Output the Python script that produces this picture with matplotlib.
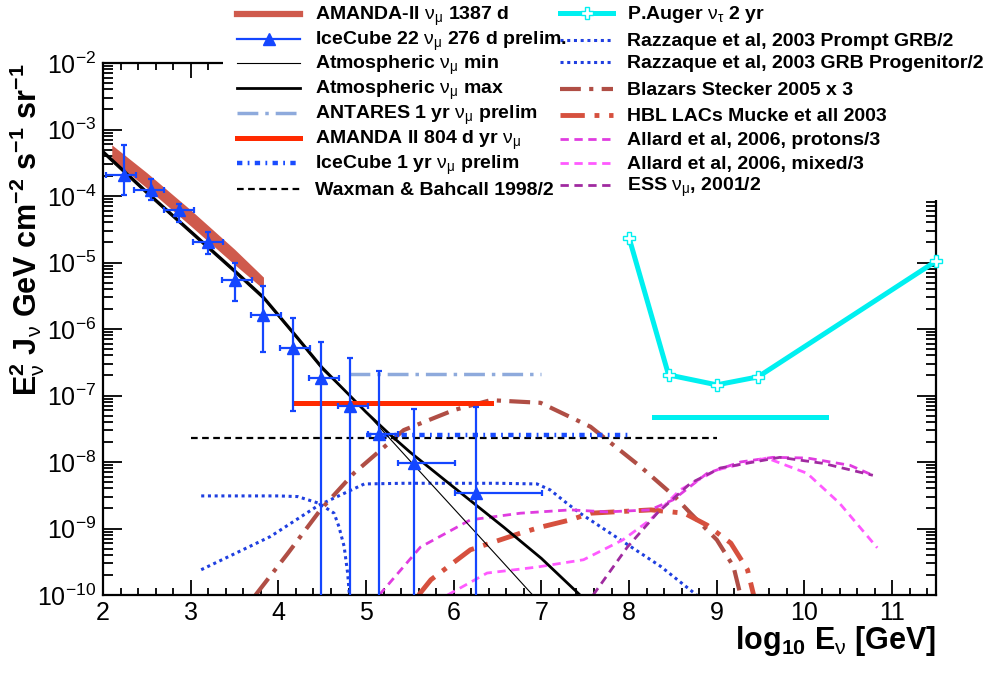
import matplotlib
matplotlib.use("Agg")
import matplotlib.pyplot as plt
import numpy as np
from matplotlib.lines import Line2D
from matplotlib.patches import Rectangle
from matplotlib.ticker import MultipleLocator, AutoMinorLocator, LogLocator, NullFormatter

plt.rcParams['font.family'] = ['Liberation Sans', 'DejaVu Sans']
plt.rcParams['mathtext.fontset'] = 'custom'
plt.rcParams['mathtext.rm'] = 'Liberation Sans'
plt.rcParams['mathtext.it'] = 'Liberation Sans:italic'
plt.rcParams['mathtext.bf'] = 'Liberation Sans:bold'

# ---- data (x = log10 E/GeV, fluxes given as log10 of E^2 J) ----
amanda_x = [2.1, 2.5, 3.0, 3.5, 3.83]
amanda_logf_hi = [-3.23, -3.65, -4.21, -4.80, -5.22]
amanda_logf_lo = [-3.45, -3.88, -4.45, -5.03, -5.40]

ic22_x = [2.24, 2.55, 2.87, 3.20, 3.50, 3.83, 4.17, 4.49, 4.82, 5.15, 5.55, 6.25]
ic22_xlo = [2.03, 2.35, 2.69, 3.03, 3.36, 3.69, 4.02, 4.35, 4.68, 5.02, 5.36, 6.02]
ic22_xhi = [2.38, 2.69, 3.04, 3.37, 3.70, 4.03, 4.36, 4.69, 5.02, 5.36, 6.02, 7.01]
ic22_logf = [-3.68, -3.91, -4.21, -4.69, -5.26, -5.79, -6.29, -6.74, -7.16, -7.58, -8.02, -8.47]
ic22_logf_top = [-3.23, -3.74, -4.12, -4.54, -5.00, -5.35, -5.83, -6.20, -6.44, -6.63, -7.20, -7.17]
# -12 = lower error runs off the bottom of the plot
ic22_logf_bot = [-3.98, -4.06, -4.39, -4.87, -5.58, -6.35, -7.23, -12, -12, -12, -12, -12]

atm_max_x = [2.0, 2.5, 3.0, 3.5, 3.83, 4.2, 4.5, 5.0, 5.25, 5.5, 6.0, 6.57, 7.0, 7.44]
atm_max_logf = [-3.33, -3.94, -4.53, -5.12, -5.52, -6.10, -6.58, -7.25, -7.56, -7.85, -8.38, -8.98, -9.45, -10.0]
atm_min_x = [2.0, 2.5, 3.0, 3.5, 3.83, 4.2, 4.5, 4.9, 5.5, 6.0, 6.5, 6.9]
atm_min_logf = [-3.36, -3.97, -4.56, -5.15, -5.55, -6.13, -6.61, -7.11, -7.98, -8.70, -9.42, -10.0]

antares_x = [4.8, 7.0]
antares_logf = [-6.67, -6.67]
amanda804_x = [4.2, 6.42]
amanda804_logf = [-7.12, -7.12]
ic1yr_x = [5.0, 8.0]
ic1yr_logf = [-7.59, -7.59]
wb_x = [3.0, 9.0]
wb_logf = [-7.64, -7.64]

auger_x = [8.0, 8.45, 9.0, 9.47, 11.5]
auger_logf = [-4.63, -6.69, -6.84, -6.72, -4.98]
auger_flat_x = [8.28, 10.25]
auger_flat_logf = [-7.32, -7.32]

razz_prog_x = [3.12, 3.5, 4.0, 4.22, 4.46, 4.635, 4.69, 4.75, 4.79, 4.81]
razz_prog_logf = [-8.51, -8.51, -8.51, -8.52, -8.62, -8.77, -8.97, -9.27, -9.67, -10.0]
razz_prompt_x = [3.12, 3.5, 3.91, 4.46, 4.98, 5.43, 6.5, 6.95, 7.1, 7.29, 7.44, 7.9, 8.36, 8.77]
razz_prompt_logf = [-9.62, -9.38, -9.12, -8.65, -8.33, -8.32, -8.32, -8.33, -8.42, -8.62, -8.77, -9.17, -9.57, -10.0]

blazar_x = [3.74, 4.11, 4.48, 4.86, 5.43, 6.0, 6.42, 6.99, 7.56, 8.13, 8.52, 8.70, 9.0, 9.19, 9.27]
blazar_logf = [-10.0, -9.37, -8.72, -8.17, -7.52, -7.22, -7.07, -7.11, -7.47, -8.07, -8.52, -8.77, -9.17, -9.57, -10.0]
hbl_x = [5.6, 5.74, 6.19, 6.76, 6.99, 7.33, 7.56, 8.25, 8.63, 8.89, 9.16, 9.35, 9.42]
hbl_logf = [-10.0, -9.77, -9.32, -9.07, -8.98, -8.87, -8.77, -8.72, -8.77, -8.95, -9.22, -9.62, -10.0]

allard_p_x = [5.15, 5.62, 6.19, 6.76, 7.33, 7.75, 8.24, 8.5, 8.89, 9.27, 9.64, 10.03, 10.52, 10.78]
allard_p_logf = [-10.0, -9.28, -8.87, -8.77, -8.72, -8.75, -8.72, -8.57, -8.17, -8.0, -7.93, -7.94, -8.05, -8.2]
allard_mix_x = [5.93, 6.38, 6.95, 7.48, 7.93, 8.24, 8.58, 9.0, 9.57, 10.03, 10.4, 10.83]
allard_mix_logf = [-10.0, -9.67, -9.58, -9.47, -9.17, -8.87, -8.42, -8.12, -7.94, -8.17, -8.62, -9.29]
ess_x = [7.59, 7.98, 8.32, 8.7, 9.04, 9.72, 10.21, 10.78]
ess_logf = [-10.0, -9.28, -8.77, -8.32, -8.09, -7.93, -8.02, -8.2]


def f(a):
    return 10.0 ** np.asarray(a, dtype=float)


# ---- styles ----
BLUE = '#1446ff'
CYAN = '#00f0f0'
styles = {
    'amanda1387': dict(color='#cf5a4c', lw=5),
    'ic22': dict(color=BLUE, lw=1.6),
    'atm_min': dict(color='black', lw=0.8),
    'atm_max': dict(color='black', lw=2.0),
    'antares': dict(color='#8eaadc', lw=2.5, ls=(0, (6, 2, 1, 2))),
    'amanda804': dict(color='#ff2a00', lw=3.6),
    'ic1yr': dict(color='#1a4cff', lw=3.2, ls=(0, (1.2, 1.2, 0.4, 1.2))),
    'wb': dict(color='black', lw=1.6, ls=(0, (3, 2))),
    'auger': dict(color=CYAN, lw=3.6),
    'razz': dict(color='#1f3fe0', lw=2.2, ls=(0, (1, 1.2))),
    'blazar': dict(color='#b04e45', lw=3.0, ls=(0, (5, 2, 1, 2))),
    'hbl': dict(color='#d6503e', lw=3.5, ls=(0, (5, 2, 1, 2))),
    'allard_p': dict(color='#e03ce0', lw=2.0, ls=(0, (3, 2))),
    'allard_mix': dict(color='#ff5aff', lw=2.0, ls=(0, (3, 2))),
    'ess': dict(color='#a02aa0', lw=2.0, ls=(0, (3, 2))),
}

W, H = 985, 677
fig = plt.figure(figsize=(W / 100, H / 100), dpi=100)
ax = fig.add_axes([103 / W, 1 - 595 / H, (936 - 103) / W, (595 - 63) / H])

# models and limits
ax.fill_between(amanda_x, f(amanda_logf_lo), f(amanda_logf_hi),
                color=styles['amanda1387']['color'], lw=0, zorder=2)
ax.plot(atm_min_x, f(atm_min_logf), **styles['atm_min'], zorder=3)
ax.plot(atm_max_x, f(atm_max_logf), **styles['atm_max'], zorder=3)
ax.plot(razz_prog_x, f(razz_prog_logf), **styles['razz'])
ax.plot(razz_prompt_x, f(razz_prompt_logf), **styles['razz'])
ax.plot(blazar_x, f(blazar_logf), **styles['blazar'])
ax.plot(hbl_x, f(hbl_logf), **styles['hbl'])
ax.plot(allard_p_x, f(allard_p_logf), **styles['allard_p'])
ax.plot(allard_mix_x, f(allard_mix_logf), **styles['allard_mix'])
ax.plot(ess_x, f(ess_logf), **styles['ess'])
ax.plot(wb_x, f(wb_logf), **styles['wb'])
ax.plot(antares_x, f(antares_logf), **styles['antares'])
ax.plot(ic1yr_x, f(ic1yr_logf), **styles['ic1yr'])
ax.plot(amanda804_x, f(amanda804_logf), **styles['amanda804'], zorder=4)

# IceCube 22 points
x = np.array(ic22_x)
y = f(ic22_logf)
xerr = [x - np.array(ic22_xlo), np.array(ic22_xhi) - x]
yerr = [y - f(ic22_logf_bot), f(ic22_logf_top) - y]
ax.errorbar(x, y, xerr=xerr, yerr=yerr, fmt='^', color=BLUE, ms=8,
            elinewidth=1.6, capsize=2.5, capthick=1.6, zorder=5)

# Auger
ax.plot(auger_flat_x, f(auger_flat_logf), **styles['auger'])
ax.plot(auger_x, f(auger_logf), **styles['auger'], marker='P', ms=9,
        mfc='white', mec=CYAN, mew=1.0, clip_on=False, zorder=6)

# axes
ax.set_yscale('log')
ax.set_xlim(2, 11.5)
ax.set_ylim(1e-10, 1e-2)
ax.xaxis.set_major_locator(MultipleLocator(1))
ax.xaxis.set_minor_locator(AutoMinorLocator(5))
ax.yaxis.set_major_locator(LogLocator(base=10, numticks=20))
ax.yaxis.set_minor_locator(LogLocator(base=10, subs=np.arange(2, 10), numticks=20))
ax.yaxis.set_minor_formatter(NullFormatter())
ax.tick_params(which='both', direction='in', top=True, right=True, width=1.3)
ax.tick_params(axis='x', which='major', length=11, labelsize=18, pad=4)
ax.tick_params(axis='x', which='minor', length=5)
ax.tick_params(axis='y', which='major', length=14, labelsize=18, pad=5)
ax.tick_params(axis='y', which='minor', length=7)
for s in ax.spines.values():
    s.set_linewidth(1.6)

ax.set_ylabel(r'E$^{\mathbf{2}}_{\mathrm{\nu}}$ J$_{\mathrm{\nu}}$ GeV cm$^{\mathbf{-2}}$ '
              r's$^{\mathbf{-1}}$ sr$^{\mathbf{-1}}$',
              fontsize=22, fontweight='bold', loc='top')
ax.yaxis.set_label_coords(-0.067, 1.0)
ax.set_xlabel(r'log$_{\mathbf{10}}$ E$_{\mathrm{\nu}}$ [GeV]', fontsize=22, fontweight='bold', loc='right')
ax.xaxis.set_label_coords(1.0, -0.055)

# ---- legend (two columns, white background over the top of the frame) ----
fig.add_artist(Rectangle((223 / W, 1 - 200 / H), (W - 223) / W, 200 / H,
                         transform=fig.transFigure, facecolor='white', edgecolor='none', zorder=1))

NUMU = r'$\mathrm{\nu_{\mu}}$'
col1 = [
    ('amanda1387', 'AMANDA-II ' + NUMU + ' 1387 d', None),
    ('ic22', 'IceCube 22 ' + NUMU + ' 276 d prelim.', '^'),
    ('atm_min', 'Atmospheric ' + NUMU + ' min', None),
    ('atm_max', 'Atmospheric ' + NUMU + ' max', None),
    ('antares', 'ANTARES 1 yr ' + NUMU + ' prelim', None),
    ('amanda804', 'AMANDA II 804 d yr ' + NUMU, None),
    ('ic1yr', 'IceCube 1 yr ' + NUMU + ' prelim', None),
    ('wb', 'Waxman & Bahcall 1998/2', None),
]
col2 = [
    ('auger', r'P.Auger $\mathrm{\nu_{\tau}}$ 2 yr', 'P'),
    ('razz', 'Razzaque et al, 2003 Prompt GRB/2', None),
    ('razz', 'Razzaque et al, 2003 GRB Progenitor/2', None),
    ('blazar', 'Blazars Stecker 2005 x 3', None),
    ('hbl', 'HBL LACs Mucke et all 2003', None),
    ('allard_p', 'Allard et al, 2006, protons/3', None),
    ('allard_mix', 'Allard et al, 2006, mixed/3', None),
    ('ess', 'ESS ' + NUMU + ', 2001/2', None),
]
rows1 = [14, 39, 63, 88, 113, 138, 163, 189]
rows2 = [13, 40, 62, 89, 115, 139, 163, 185]


def legend_column(entries, rows, x0, x1, xt):
    for (key, label, marker), yr in zip(entries, rows):
        fy = 1 - yr / H
        st = dict(styles[key])
        if key == 'amanda1387':
            st['lw'] = 4.5
        line = Line2D([x0 / W, (x0 + x1) / 2 / W, x1 / W], [fy, fy, fy],
                      transform=fig.transFigure, zorder=2, **st)
        if marker == '^':
            line.set_marker('^'); line.set_markevery([1]); line.set_markersize(8)
        if marker == 'P':
            line.set_marker('P'); line.set_markevery([1]); line.set_markersize(9)
            line.set_markerfacecolor('white'); line.set_markeredgecolor(CYAN)
            line.set_markeredgewidth(1.0)
        fig.add_artist(line)
        fig.text(xt / W, 1 - (yr + 6) / H, label, ha='left', va='baseline',
                 fontsize=14, fontweight='bold', zorder=3)


legend_column(col2, rows2, 560, 613, 627)
legend_column(col1, rows1, 237, 300, 315)

fig.savefig('out.png', dpi=100)
